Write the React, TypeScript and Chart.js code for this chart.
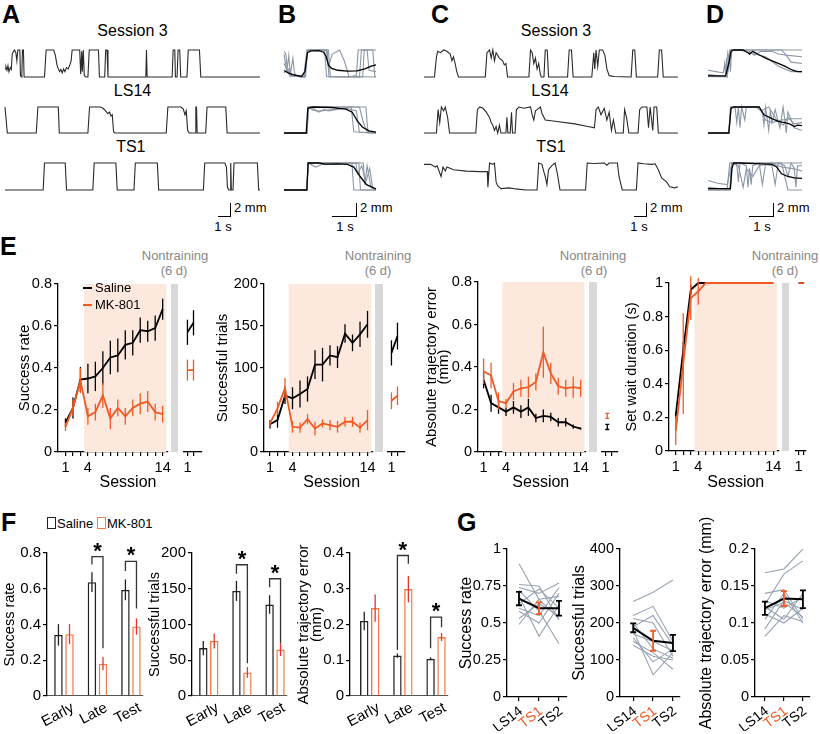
import React, { useEffect, useRef } from 'react';
import { Chart, registerables } from 'chart.js';

Chart.register(...registerables);

const FONT = "'Liberation Sans', Arial, Helvetica, sans-serif";
Chart.defaults.font.family = FONT;
Chart.defaults.color = '#000';

const ORANGE = '#f15a24';
const MK_BAR = '#f47a45';
const MK_ERR = '#e8322c';
const TRACE_DARK = '#2a2a2a';
const GRAY_TRACE = '#8b97a6';
const GRAY_LINE = '#97a3b2';
const SHADE = '#fde8dd';
const BAR_GRAY = '#d8d8d8';
const MARK_LEVEL = 1.2;

// ---------------- Panels A-D: position traces [sample, relative position] ----------------
const A_SESSION3 = [[10,0.3],[13,0.38],[16,0.25],[19,0.42],[22,0.2],[26,0.35],[29,0.28],[32,0.85],[36,0.95],[39,1],[43,0.9],[46,0.6],[49,1],[55,1],[57,0.05],[61,0],[63,1],[66,1],[68,0],[130,0],[135,1],[158,1],[163,0.8],[168,0.45],[172,0.3],[176,0.2],[180,0.28],[184,0.15],[188,0.3],[192,0.2],[197,0.35],[202,0.3],[207,0.45],[211,0.6],[214,1],[237,1],[240,0.1],[243,0.95],[245,0.2],[248,1],[251,0.05],[256,0],[262,0],[266,1],[294,1],[297,0],[313,0],[316,1],[320,1],[323,0],[438,0],[440,1],[442,0],[518,0],[521,1],[526,1],[528,0],[533,0],[536,1],[541,1],[544,0],[563,0],[567,1],[601,1],[605,0],[785,0]];
const A_SESSION3_MARKS = [58, 157];
const A_LS14 = [[10,1],[13,1],[17,0],[105,0],[110,1],[172,1],[175,0],[262,0],[267,1],[300,1],[308,0.95],[316,0.85],[322,0.75],[328,0.8],[332,0.65],[336,0.7],[340,0.05],[344,0],[500,0],[505,1],[545,1],[552,0.92],[557,0.7],[561,0.85],[565,0.1],[570,0],[588,0],[590,1],[592,1],[594,0],[620,0],[624,1],[681,1],[685,0],[785,0]];
const A_LS14_MARKS = [135, 293, 530];
const A_TS1 = [[10,0],[126,0],[130,1],[193,1],[197,0],[277,0],[281,1],[347,1],[351,0],[402,0],[406,1],[473,1],[477,0],[613,0],[617,1],[678,1],[683,0.85],[686,0.1],[690,0],[694,0],[696,1],[698,0],[703,0],[706,1],[777,1],[781,0],[785,0]];
const A_TS1_MARKS = [153, 305, 428, 640];

const B_SESSION3_MEAN = [[0,0.24],[12,0.16],[25,0.1],[55,0.02],[66,0.2],[74,0.9],[85,0.97],[110,0.98],[125,0.92],[133,0.75],[140,0.45],[150,0.32],[170,0.25],[200,0.22],[230,0.23],[255,0.3],[275,0.4],[290,0.45]];
const B_SESSION3_TRIALS = [
  [[0,0.95],[6,0.85],[10,0.3],[15,0.8],[20,0.1],[28,0.7],[33,0.15],[40,0.02],[68,0],[74,1],[128,1],[134,0.02],[200,0],[228,0.05],[234,1],[262,1],[268,0.25],[290,0.2]],
  [[0,0.15],[14,0.3],[24,0.05],[62,0],[72,1],[133,1],[140,0.35],[152,0.85],[175,1],[190,0.6],[205,0.02],[290,0]],
  [[0,0.85],[8,0.25],[30,0.08],[65,0],[73,1],[136,1],[142,0],[248,0],[253,1],[280,1],[286,0.05],[290,0]],
  [[0,0.5],[18,0.04],[64,0],[75,1],[140,1],[146,0.02],[238,0],[244,1],[290,1]],
];
const B_LS14_MEAN = [[0,0],[70,0],[75,0.95],[90,1],[150,0.98],[195,0.92],[215,0.8],[232,0.45],[248,0.22],[268,0.08],[290,0.03]];
const B_LS14_TRIALS = [
  [[0,0],[72,0],[76,1],[258,1],[265,0],[290,0]],
  [[0,0],[73,0],[77,1],[95,0.92],[110,0.8],[125,0.9],[140,0.85],[212,1],[220,0.05],[290,0]],
  [[0,0],[72,0],[76,1],[92,0.88],[108,0.84],[195,0.95],[228,0.85],[238,0.02],[290,0]],
  [[0,0],[72,0],[78,1],[238,1],[248,0.5],[260,0.08],[290,0]],
];
const B_TS1_MEAN = [[0,0],[72,0],[76,1],[110,1],[130,0.96],[170,0.97],[200,0.95],[220,0.85],[240,0.5],[260,0.2],[290,0.04]];
const B_TS1_TRIALS = [
  [[0,0],[72,0],[76,1],[214,1],[220,0],[290,0]],
  [[0,0],[72,0],[76,1],[100,0.85],[120,0.95],[236,1],[241,0],[290,0]],
  [[0,0],[72,0],[77,1],[250,1],[255,0.2],[262,0.9],[274,0.1],[290,0]],
  [[0,0],[72,0],[76,1],[226,1],[232,0.6],[245,0.9],[258,0.3],[270,0.8],[280,0.05],[290,0]],
];
const B_MARKS_SESSION3 = [130];
const B_MARKS_LS14 = [130];
const B_MARKS_TS1 = [125];

const C_SESSION3 = [[20,0],[52,0],[58,0.75],[62,0.95],[70,0.9],[80,1],[90,0.95],[100,0.85],[105,0.6],[110,0.75],[115,0.5],[120,0.2],[125,0],[207,0],[212,0.9],[220,1],[225,0.7],[230,1],[235,0.6],[240,0.9],[250,0.7],[260,0.6],[265,0.45],[270,0.5],[275,0],[340,0],[345,1],[350,0.9],[355,0.5],[360,0.7],[365,0.3],[370,0.5],[375,0.1],[378,0],[386,0],[390,1],[396,1],[400,0],[458,0],[463,1],[470,1],[475,0],[532,0],[538,0.9],[541,0.3],[545,1],[550,0.4],[555,1],[565,1],[572,0.8],[578,0.3],[585,0.05],[600,0.02],[650,0],[652,0],[657,1],[663,1],[668,0],[733,0],[738,1],[745,1],[750,0],[795,0]];
const C_SESSION3_MARKS = [82, 234];
const C_LS14 = [[20,0],[58,0],[63,0.9],[68,0.4],[73,1],[80,0.85],[85,1],[92,0.6],[98,0],[178,0],[183,0.9],[190,1],[200,0.95],[210,0.8],[220,0.6],[225,0.4],[230,0.3],[235,0.1],[240,0.25],[245,0],[250,0.3],[255,0],[270,0],[273,0.6],[276,0],[283,0],[287,0.8],[290,0],[298,0],[302,0.9],[310,1],[325,0.95],[345,1],[350,0.7],[355,0.5],[360,0.85],[365,0.9],[375,1],[380,0.75],[390,0.5],[420,0.45],[480,0.35],[520,0.25],[540,0.2],[545,0.9],[552,1],[560,0.7],[570,0.95],[578,0.5],[585,0.8],[592,0.1],[598,0.5],[605,0],[628,0],[632,0.9],[638,0.6],[645,0],[673,0],[678,0.9],[685,1],[700,1],[705,0.2],[710,1],[718,0.1],[722,1],[730,1],[735,0],[795,0]];
const C_LS14_MARKS = [205, 568];
const C_TS1 = [[20,0.95],[40,0.95],[55,0.85],[60,0.9],[72,0.5],[78,0.85],[85,0.7],[90,0.85],[110,0.75],[150,0.7],[190,0.68],[213,0.68],[215,0.1],[220,1],[230,0.95],[235,1],[240,0.3],[245,0.15],[255,0.05],[280,0.08],[300,0.04],[330,0],[365,0],[370,1],[380,0.95],[385,0.7],[390,0.5],[395,0.2],[400,0.75],[410,0.9],[420,1],[427,0.6],[435,0],[513,0],[518,1],[540,0.98],[570,1],[578,0.92],[585,1],[610,1],[615,0.5],[625,0],[668,0],[673,1],[690,0.97],[715,0.95],[725,0.97],[735,0.75],[745,0.45],[760,0.3],[770,0.12],[785,0.08],[795,0.12]];
const C_TS1_MARKS = [390, 540, 692];

const D_SESSION3_MEAN = [[0,0.04],[55,0.04],[65,0.5],[72,0.95],[80,1],[110,1],[125,0.9],[130,0.85],[140,0.95],[155,0.85],[180,0.7],[210,0.55],[240,0.4],[265,0.25],[280,0.2],[294,0.2]];
const D_SESSION3_TRIALS = [
  [[0,0.25],[25,0.2],[48,0.15],[52,0.5],[55,0.1],[58,0.7],[62,0.2],[68,1],[294,1]],
  [[0,0.02],[60,0],[66,0.8],[70,0.2],[74,1],[110,1],[125,0.9],[130,0.95],[145,0.8],[165,0.95],[200,0.95],[220,0.85],[250,0.8],[294,0.75]],
  [[0,0.05],[55,0.02],[62,0.9],[68,0.5],[75,1],[230,1],[245,0.8],[260,0.55],[294,0.5]],
  [[0,0.1],[60,0],[70,1],[100,1],[130,0.9],[180,0.75],[220,0.4],[260,0.2],[294,0.2]],
];
const D_LS14_MEAN = [[0,0],[65,0],[72,0.95],[80,1],[130,1],[160,1],[175,0.7],[200,0.55],[220,0.45],[240,0.4],[255,0.35],[270,0.25],[280,0.3],[294,0.28]];
const D_LS14_TRIALS = [
  [[0,0],[65,0],[70,1],[85,0.95],[90,0.4],[95,1],[100,0.2],[105,1],[115,0.5],[120,1],[160,1],[170,0.8],[175,0.3],[180,1],[190,0.1],[195,0.9],[200,0.4],[210,0.9],[225,0.2],[235,1],[245,0],[250,0.8],[270,0.2],[294,0.1]],
  [[0,0],[65,0],[72,1],[160,1],[180,0.5],[200,0.4],[230,0.5],[260,0.55],[294,0.55]],
  [[0,0],[66,0],[72,1],[150,1],[165,0.85],[190,1],[215,0.5],[235,0.3],[250,0.6],[270,0.35],[294,0.4]],
];
const D_TS1_MEAN = [[0,0.05],[70,0.05],[75,0.8],[80,1],[100,1],[150,0.98],[200,0.95],[215,0.85],[230,0.6],[250,0.5],[270,0.45],[294,0.43]];
const D_TS1_TRIALS = [
  [[0,0.35],[30,0.25],[60,0.2],[75,1],[294,1]],
  [[0,0.1],[60,0.02],[68,1],[90,0.95],[95,0.3],[100,1],[120,0.9],[125,0.1],[130,0.8],[135,0.2],[140,0.9],[160,1],[170,0.2],[180,0.95],[200,0.9],[210,0.2],[220,1],[240,0.9],[250,0.5],[260,1],[270,0.8],[275,0.1],[280,0.9],[294,0.9]],
  [[0,0],[70,0],[75,1],[95,0.9],[110,0.1],[120,0.8],[140,0.5],[160,0.9],[200,1],[230,0.85],[260,0.8],[280,0.75],[294,0.7]],
  [[0,0],[68,0],[74,1],[230,1],[240,0.5],[250,0],[294,0]],
];
const D_MARKS = [132];

// ---------------- Panel E ----------------
const SESSIONS = [1,2,3,4,5,6,7,8,9,10,11,12,13,14];
const SESSION_LABELS = [1, 4, 14];
const TEST_SESSIONS = [1, 2];
const TEST_LABELS = [1];
const DRUG_SESSIONS = [3.5, 14.5];

const RATE_SAL = [0.14,0.21,0.345,0.35,0.36,0.40,0.45,0.46,0.51,0.52,0.58,0.575,0.59,0.68];
const RATE_SAL_SEM = [0.02,0.05,0.06,0.07,0.07,0.08,0.08,0.08,0.07,0.06,0.06,0.05,0.06,0.05];
const RATE_MK = [0.12,0.21,0.34,0.17,0.19,0.27,0.16,0.21,0.17,0.21,0.23,0.24,0.19,0.18];
const RATE_MK_SEM = [0.02,0.04,0.06,0.04,0.04,0.06,0.05,0.04,0.04,0.04,0.05,0.05,0.04,0.04];
const RATE_SAL_TEST = [0.57, 0.615];
const RATE_SAL_TEST_SEM = [0.06, 0.06];
const RATE_MK_TEST = [0.39, 0.39];
const RATE_MK_TEST_SEM = [0.05, 0.05];

const TRIALS_SAL = [33,38,67,64,69,75,104,104,115,113,141,130,140,152];
const TRIALS_SAL_SEM = [5,9,10,13,16,15,17,20,12,13,11,10,15,16];
const TRIALS_MK = [34,52,76,30,29,39,28,34,32,30,36,36,29,38];
const TRIALS_MK_SEM = [4,8,12,7,6,6,8,5,6,7,6,6,6,12];
const TRIALS_SAL_TEST = [118, 138];
const TRIALS_SAL_TEST_SEM = [15, 16];
const TRIALS_MK_TEST = [61, 67];
const TRIALS_MK_TEST_SEM = [10, 11];

const ERROR_SAL = [0.34,0.23,0.21,0.19,0.21,0.19,0.21,0.16,0.17,0.165,0.14,0.14,0.12,0.11];
const ERROR_SAL_SEM = [0.04,0.04,0.03,0.02,0.03,0.03,0.04,0.02,0.03,0.02,0.02,0.02,0.01,0.005];
const ERROR_MK = [0.38,0.36,0.24,0.23,0.285,0.30,0.305,0.33,0.47,0.37,0.31,0.30,0.305,0.30];
const ERROR_MK_SEM = [0.06,0.06,0.04,0.02,0.04,0.04,0.05,0.04,0.12,0.05,0.04,0.04,0.05,0.04];
const ERROR_TEST_X = [1.3];
const ERROR_SAL_TEST = [0.118];
const ERROR_SAL_TEST_SEM = [0.012];
const ERROR_MK_TEST = [0.17];
const ERROR_MK_TEST_SEM = [0.012];

const WAIT_SAL = [0.21,0.6,0.96,1,1,1,1,1,1,1,1,1,1,1];
const WAIT_SAL_SEM = [0.02,0.05,0.03,0,0,0,0,0,0,0,0,0,0,0];
const WAIT_MK = [0.12,0.52,0.91,0.95,1,1,1,1,1,1,1,1,1,1];
const WAIT_MK_SEM = [0.085,0.3,0.13,0.08,0,0,0,0,0,0,0,0,0,0];
const WAIT_SAL_TEST = [1, 1];
const WAIT_MK_TEST = [1, 1];

// ---------------- Panel F ----------------
const PHASES = ['Early', 'Late', 'Test'];
const PHASE_X = [0, 1, 2];
const F_RATE_SAL = [0.342, 0.637, 0.594];
const F_RATE_SAL_SEM = [0.06, 0.055, 0.058];
const F_RATE_MK = [0.346, 0.181, 0.389];
const F_RATE_MK_SEM = [0.056, 0.037, 0.045];
const F_RATE_SIG = [[1, 0.78, 0.735, 0.267], [2, 0.753, 0.70, 0.49]];
const F_TRIALS_SAL = [67, 147, 128];
const F_TRIALS_SAL_SEM = [10, 14, 13];
const F_TRIALS_MK = [77, 33, 65];
const F_TRIALS_MK_SEM = [10.5, 7.5, 9];
const F_TRIALS_SIG = [[1, 183.6, 171, 45.8], [2, 164, 152, 74]];
const F_ERROR_SAL = [0.21, 0.113, 0.104];
const F_ERROR_SAL_SEM = [0.026, 0.006, 0.004];
const F_ERROR_MK = [0.246, 0.299, 0.165];
const F_ERROR_MK_SEM = [0.038, 0.037, 0.011];
const F_ERROR_SIG = [[1, 0.393, 0.129, 0.37], [2, 0.2206, 0.1337, 0.1926]];
const SIG_MARK = '*';

// ---------------- Panel G ----------------
const G_LABELS = ['LS14', 'TS1', 'TS2'];
const G_X = [0, 1, 2];
const G_LABEL_COLORS = ['#000', ORANGE, '#000'];
const G_RATE_LS14 = [0.90,0.76,0.74,0.72,0.68,0.63,0.60,0.58,0.53,0.49];
const G_RATE_TS1 = [0.66,0.75,0.70,0.58,0.41,0.73,0.55,0.50,0.63,0.66];
const G_RATE_TS2 = [0.53,0.52,0.77,0.36,0.62,0.60,0.74,0.70,0.55,0.68];
const G_RATE_MEAN = [0.665, 0.60, 0.60];
const G_RATE_SEM = [0.045, 0.04, 0.05];
const G_TRIALS_LS14 = [258,220,212,200,190,180,170,160,150,140];
const G_TRIALS_TS1 = [283,245,200,130,220,60,150,95,120,110];
const G_TRIALS_TS2 = [316,150,110,105,140,120,125,130,75,100];
const G_TRIALS_MEAN = [187, 152, 146];
const G_TRIALS_SEM = [12, 27, 22];
const G_ERROR_LS14 = [0.168,0.125,0.140,0.130,0.122,0.118,0.112,0.105,0.092,0.082];
const G_ERROR_TS1 = [0.173,0.166,0.145,0.120,0.105,0.128,0.100,0.140,0.130,0.110];
const G_ERROR_TS2 = [0.200,0.184,0.105,0.135,0.140,0.108,0.120,0.100,0.118,0.102];
const G_ERROR_MEAN = [0.12, 0.133, 0.132];
const G_ERROR_SEM = [0.009, 0.01, 0.012];

// ---------------- helpers ----------------
const toXY = (xs: number[], ys: number[]) => xs.map((x, i) => ({ x, y: ys[i] }));
const ptsXY = (p: number[][]) => p.map(([x, y]) => ({ x, y }));
const fmtTick = (v: number) => String(Math.round(v * 10000) / 10000);

const shadePlugin = {
  id: 'shade',
  beforeDatasetsDraw(chart: any, _a: any, opts: any) {
    if (!opts || !opts.range) return;
    const { ctx, chartArea, scales } = chart;
    const a = scales.x.getPixelForValue(opts.range[0]);
    const b = scales.x.getPixelForValue(opts.range[1]);
    ctx.save();
    ctx.fillStyle = opts.color;
    ctx.fillRect(a, chartArea.top, b - a, chartArea.bottom - chartArea.top);
    ctx.restore();
  },
};

const errPlugin = {
  id: 'err',
  afterDatasetDraw(chart: any, args: any) {
    const ds = chart.data.datasets[args.index];
    if (!ds.errors) return;
    const meta = args.meta;
    const ys = chart.scales[meta.yAxisID];
    const ctx = chart.ctx;
    ctx.save();
    ctx.lineWidth = ds.errWidth || 1.3;
    meta.data.forEach((el: any, j: number) => {
      const e = ds.errors[j];
      if (!e) return;
      const raw = ds.data[j];
      const v = typeof raw === 'number' ? raw : raw.y;
      const x = el.x;
      const top = ys.getPixelForValue(v + e);
      const bot = ys.getPixelForValue(v - e);
      ctx.strokeStyle = Array.isArray(ds.errColor) ? ds.errColor[j] : ds.errColor || ds.borderColor;
      ctx.beginPath();
      ctx.moveTo(x, top);
      ctx.lineTo(x, bot);
      const cap = ds.errCap || 0;
      if (cap) {
        ctx.moveTo(x - cap, top); ctx.lineTo(x + cap, top);
        ctx.moveTo(x - cap, bot); ctx.lineTo(x + cap, bot);
      }
      ctx.stroke();
    });
    ctx.restore();
  },
};

const bracketPlugin = {
  id: 'brackets',
  afterDatasetsDraw(chart: any, _a: any, opts: any) {
    if (!opts || !opts.items) return;
    const ctx = chart.ctx;
    const ys = chart.scales.y;
    const m0 = chart.getDatasetMeta(0), m1 = chart.getDatasetMeta(1);
    ctx.save();
    ctx.strokeStyle = '#333';
    ctx.lineWidth = 1.3;
    opts.items.forEach(([cat, top, le, re]: number[]) => {
      const xl = m0.data[cat].x, xr = m1.data[cat].x;
      const yt = ys.getPixelForValue(top);
      ctx.beginPath();
      ctx.moveTo(xl, ys.getPixelForValue(le));
      ctx.lineTo(xl, yt);
      ctx.lineTo(xr, yt);
      ctx.lineTo(xr, ys.getPixelForValue(re));
      ctx.stroke();
      ctx.fillStyle = '#000';
      ctx.font = `bold 22px ${FONT}`;
      ctx.textAlign = 'center';
      ctx.textBaseline = 'alphabetic';
      ctx.fillText(opts.mark, (xl + xr) / 2, yt + 1);
    });
    ctx.restore();
  },
};

type M = { l: number; t: number; r: number; b: number };

function base(m: M, hasY: boolean, hasX: boolean, extraPlugins: any = {}) {
  return {
    animation: false,
    responsive: false,
    events: [],
    layout: { padding: { left: hasY ? 0 : m.l, right: m.r, top: m.t, bottom: hasX ? 0 : m.b } },
    plugins: { legend: { display: false }, tooltip: { enabled: false }, ...extraPlugins },
  };
}

function yAxis(m: M, o: any) {
  return {
    type: 'linear',
    min: o.min,
    max: o.max,
    bounds: 'data',
    ticks: { stepSize: o.step, font: { size: o.size }, color: '#000', padding: 2, callback: fmtTick },
    grid: { drawOnChartArea: false, drawTicks: true, tickLength: 4, color: '#000', lineWidth: 1.2 },
    border: { display: true, color: '#000', width: 1.3 },
    title: o.title
      ? { display: true, text: o.title, color: '#000', font: { size: o.titleSize, lineHeight: o.titleLH || 1.2 }, padding: 0 }
      : { display: false },
    afterFit: (s: any) => { s.width = m.l; },
  };
}

function xAxis(m: M, o: any) {
  return {
    type: 'linear',
    min: o.min,
    max: o.max,
    bounds: 'data',
    offset: false,
    afterBuildTicks: (s: any) => { s.ticks = o.values.map((v: number) => ({ value: v })); },
    ticks: {
      autoSkip: false,
      minRotation: o.rot || 0,
      maxRotation: o.rot || 0,
      labelOffset: o.labelOffset || 0,
      font: { size: o.size },
      color: o.color || '#000',
      padding: o.pad ?? 3,
      callback: o.callback,
    },
    grid: { drawOnChartArea: false, drawTicks: o.noTicks ? false : true, tickLength: 4, color: '#000', lineWidth: 1.2, offset: false },
    border: { display: true, color: o.borderColor || '#000', width: o.borderWidth || 1.3 },
    afterFit: (s: any) => { s.height = m.b; },
  };
}

function Plot({ x0, y0, x1, y1, l, t, r, b, make }: any) {
  const ref = useRef<HTMLCanvasElement>(null);
  const X0 = Math.round(x0), Y0 = Math.round(y0);
  const W = Math.round(x1) - X0 + l + r;
  const H = Math.round(y1) - Y0 + t + b;
  useEffect(() => {
    const chart = new Chart(ref.current as HTMLCanvasElement, make({ l, t, r, b }));
    return () => chart.destroy();
  }, []);
  return (
    <canvas
      ref={ref}
      width={W}
      height={H}
      style={{ position: 'absolute', left: X0 - l, top: Y0 - t, width: W, height: H }}
    />
  );
}

function traceChart(m: M, xMin: number, xMax: number, mean: number[][], trials: number[][][], marks: number[], color: string, width: number) {
  const datasets: any[] = [
    ...trials.map((tr) => ({ data: ptsXY(tr), showLine: true, borderColor: GRAY_TRACE, borderWidth: 1.1, pointRadius: 0, clip: false, order: 2 })),
    { data: ptsXY(mean), showLine: true, borderColor: color, borderWidth: width, pointRadius: 0, clip: false, order: 1 },
    {
      data: marks.map((x) => ({ x, y: MARK_LEVEL })),
      showLine: false, pointStyle: 'triangle', rotation: 180, pointRadius: 2.6,
      backgroundColor: '#000', borderColor: '#000', borderWidth: 0, clip: false, order: 0,
    },
  ];
  return {
    type: 'scatter',
    data: { datasets },
    options: {
      ...base(m, false, false),
      scales: {
        x: { type: 'linear', display: false, min: xMin, max: xMax },
        y: { type: 'linear', display: false, min: 0, max: 1 },
      },
    },
  };
}

function lineDs(xs: number[], ys: number[], sem: number[] | null, color: string, order: number, cap = 0) {
  return {
    data: toXY(xs, ys), showLine: true, borderColor: color, borderWidth: 1.8, pointRadius: 0,
    errors: sem, errColor: color, errCap: cap, order, clip: false,
  };
}

function eMain(m: M, o: any) {
  return {
    type: 'scatter',
    data: {
      datasets: [
        lineDs(SESSIONS, o.mk, o.mkSem, ORANGE, 0),
        lineDs(SESSIONS, o.sal, o.salSem, '#000', 1),
      ],
    },
    options: {
      ...base(m, true, true, { shade: { range: DRUG_SESSIONS, color: SHADE } }),
      scales: {
        x: xAxis(m, {
          min: o.xMin, max: o.xMax, values: SESSIONS, size: 14.5,
          callback: (v: number) => (SESSION_LABELS.includes(v) ? String(v) : ''),
        }),
        y: yAxis(m, { min: 0, max: o.yMax, step: o.step, size: 14.5, title: o.title, titleSize: o.titleSize, titleLH: o.titleLH }),
      },
    },
    plugins: [shadePlugin, errPlugin],
  };
}

function eTest(m: M, o: any) {
  const xs = o.xs || TEST_SESSIONS;
  return {
    type: 'scatter',
    data: {
      datasets: [
        lineDs(xs, o.mk, o.mkSem, ORANGE, 0, o.cap || 0),
        lineDs(xs, o.sal, o.salSem, '#000', 1, o.cap || 0),
      ],
    },
    options: {
      ...base(m, false, true),
      scales: {
        x: xAxis(m, {
          min: 0.4, max: o.xMax, values: TEST_SESSIONS, size: 14.5,
          callback: (v: number) => (TEST_LABELS.includes(v) ? String(v) : ''),
        }),
        y: { type: 'linear', display: false, min: 0, max: o.yMax },
      },
    },
    plugins: [errPlugin],
  };
}

function fBars(m: M, o: any) {
  const common = { categoryPercentage: 0.66, barPercentage: 0.77, borderWidth: 1.4, backgroundColor: 'rgba(255,255,255,0)', errWidth: 1.3 };
  return {
    type: 'bar',
    data: {
      datasets: [
        { ...common, data: toXY(PHASE_X, o.sal), borderColor: '#222', errors: o.salSem, errColor: '#222' },
        { ...common, data: toXY(PHASE_X, o.mk), borderColor: MK_BAR, errors: o.mkSem, errColor: MK_ERR },
      ],
    },
    options: {
      ...base(m, true, true, { brackets: { items: o.sig, mark: SIG_MARK } }),
      scales: {
        x: xAxis(m, {
          min: o.xMin, max: 2.36, values: PHASE_X, size: 15, rot: 28, labelOffset: 9, pad: 3, noTicks: true,
          borderColor: '#555', borderWidth: 1.1,
          callback: (_v: number, i: number) => PHASES[i],
        }),
        y: yAxis(m, { min: 0, max: o.yMax, step: o.step, size: 15, title: o.title, titleSize: o.titleSize, titleLH: o.titleLH }),
      },
    },
    plugins: [errPlugin, bracketPlugin],
  };
}

function gLines(m: M, o: any) {
  const n = o.d0.length;
  const gray = Array.from({ length: n }, (_, k) => ({
    data: toXY(G_X, [o.d0[k], o.d1[k], o.d2[k]]),
    showLine: true, borderColor: GRAY_LINE, borderWidth: 1.1, pointRadius: 0, order: 2,
  }));
  return {
    type: 'scatter',
    data: {
      datasets: [
        ...gray,
        {
          data: toXY(G_X, o.mean), showLine: true, borderColor: '#000', borderWidth: 2, pointRadius: 0,
          errors: o.sem, errColor: G_LABEL_COLORS, errCap: 3, errWidth: 1.8, order: 0,
        },
      ],
    },
    options: {
      ...base(m, true, true),
      scales: {
        x: xAxis(m, {
          min: o.xMin, max: o.xMax, values: G_X, size: 14, rot: 38, labelOffset: 2, pad: 2,
          color: (c: any) => G_LABEL_COLORS[c.index] || '#000',
          callback: (_v: number, i: number) => G_LABELS[i],
        }),
        y: yAxis(m, { min: 0, max: o.yMax, step: o.step, size: 14.5, title: o.title, titleSize: o.titleSize }),
      },
    },
    plugins: [errPlugin],
  };
}

function Txt({ x, y, size = 13, color = '#000', bold = false, align = 'left', children }: any) {
  const style: any = {
    position: 'absolute',
    top: y - 0.8465 * size,
    left: x,
    fontSize: size,
    lineHeight: `${size}px`,
    fontFamily: FONT,
    color,
    fontWeight: bold ? 'bold' : 'normal',
    whiteSpace: 'nowrap',
  };
  if (align === 'center') style.transform = 'translateX(-50%)';
  return <div style={style}>{children}</div>;
}

function Rect({ x, y, w, h, color = '#000', border }: any) {
  return (
    <div
      style={{
        position: 'absolute', left: x, top: y, width: w, height: h,
        background: border ? 'transparent' : color,
        border: border ? `1.4px solid ${border}` : undefined,
        boxSizing: 'border-box',
      }}
    />
  );
}

function ScaleBar({ x, y }: any) {
  return (
    <>
      <Rect x={x} y={y - 13} w={1.2} h={13} />
      <Rect x={x - 12} y={y} w={13} h={1.2} />
      <Txt x={x + 4} y={y - 4} size={13}>2 mm</Txt>
      <Txt x={x - 7} y={y + 15} size={13} align="center">1 s</Txt>
    </>
  );
}

function ScaleBarWide({ x, y }: any) {
  return (
    <>
      <Rect x={x} y={y - 13} w={1.2} h={13} />
      <Rect x={x - 24} y={y} w={25} h={1.2} />
      <Txt x={x + 4} y={y - 4} size={13}>2 mm</Txt>
      <Txt x={x - 11} y={y + 15} size={13} align="center">1 s</Txt>
    </>
  );
}

const ROWS = [[50, 78], [107, 134], [163, 191]];
const TM = { l: 2, t: 10, r: 2, b: 3 };

export default function App() {
  useEffect(() => { document.body.style.margin = '0'; }, []);
  const eM = { t: 12, r: 6, b: 26 };
  return (
    <div style={{ position: 'absolute', left: 0, top: 0, width: 820, height: 734, background: '#fff', overflow: 'hidden', fontFamily: FONT }}>
      {/* Panel letters */}
      <Txt x={2} y={23} size={25} bold>A</Txt>
      <Txt x={278} y={23} size={25} bold>B</Txt>
      <Txt x={431} y={23} size={25} bold>C</Txt>
      <Txt x={706} y={23} size={25} bold>D</Txt>
      <Txt x={0} y={255} size={25} bold>E</Txt>
      <Txt x={1} y={531} size={25} bold>F</Txt>
      <Txt x={457} y={531} size={25} bold>G</Txt>

      {/* Row titles */}
      <Txt x={132.5} y={37} size={16} align="center">Session 3</Txt>
      <Txt x={132.5} y={96.7} size={16} align="center">LS14</Txt>
      <Txt x={130.8} y={152.7} size={16} align="center">TS1</Txt>
      <Txt x={556} y={37} size={16} align="center">Session 3</Txt>
      <Txt x={550} y={96.7} size={16} align="center">LS14</Txt>
      <Txt x={551} y={152.7} size={16} align="center">TS1</Txt>

      {/* A */}
      <Plot x0={3} y0={ROWS[0][0]} x1={262} y1={ROWS[0][1]} {...TM} make={(m: M) => traceChart(m, 10, 785, A_SESSION3, [], A_SESSION3_MARKS, TRACE_DARK, 1.1)} />
      <Plot x0={3} y0={ROWS[1][0]} x1={262} y1={ROWS[1][1]} {...TM} make={(m: M) => traceChart(m, 10, 785, A_LS14, [], A_LS14_MARKS, TRACE_DARK, 1.1)} />
      <Plot x0={3} y0={ROWS[2][0]} x1={262} y1={ROWS[2][1]} {...TM} make={(m: M) => traceChart(m, 10, 785, A_TS1, [], A_TS1_MARKS, TRACE_DARK, 1.1)} />
      {/* B */}
      <Plot x0={282} y0={ROWS[0][0]} x1={378} y1={ROWS[0][1]} {...TM} make={(m: M) => traceChart(m, 0, 290, B_SESSION3_MEAN, B_SESSION3_TRIALS, B_MARKS_SESSION3, '#000', 1.3)} />
      <Plot x0={282} y0={ROWS[1][0]} x1={378} y1={ROWS[1][1]} {...TM} make={(m: M) => traceChart(m, 0, 290, B_LS14_MEAN, B_LS14_TRIALS, B_MARKS_LS14, '#000', 1.3)} />
      <Plot x0={282} y0={ROWS[2][0]} x1={378} y1={ROWS[2][1]} {...TM} make={(m: M) => traceChart(m, 0, 290, B_TS1_MEAN, B_TS1_TRIALS, B_MARKS_TS1, '#000', 1.3)} />
      {/* C */}
      <Plot x0={422} y0={ROWS[0][0]} x1={680} y1={ROWS[0][1]} {...TM} make={(m: M) => traceChart(m, 20, 795, C_SESSION3, [], C_SESSION3_MARKS, TRACE_DARK, 1.1)} />
      <Plot x0={422} y0={ROWS[1][0]} x1={680} y1={ROWS[1][1]} {...TM} make={(m: M) => traceChart(m, 20, 795, C_LS14, [], C_LS14_MARKS, TRACE_DARK, 1.1)} />
      <Plot x0={422} y0={ROWS[2][0]} x1={680} y1={ROWS[2][1]} {...TM} make={(m: M) => traceChart(m, 20, 795, C_TS1, [], C_TS1_MARKS, TRACE_DARK, 1.1)} />
      {/* D */}
      <Plot x0={706} y0={ROWS[0][0]} x1={804} y1={ROWS[0][1]} {...TM} make={(m: M) => traceChart(m, 0, 294, D_SESSION3_MEAN, D_SESSION3_TRIALS, D_MARKS, '#000', 1.3)} />
      <Plot x0={706} y0={ROWS[1][0]} x1={804} y1={ROWS[1][1]} {...TM} make={(m: M) => traceChart(m, 0, 294, D_LS14_MEAN, D_LS14_TRIALS, D_MARKS, '#000', 1.3)} />
      <Plot x0={706} y0={ROWS[2][0]} x1={804} y1={ROWS[2][1]} {...TM} make={(m: M) => traceChart(m, 0, 294, D_TS1_MEAN, D_TS1_TRIALS, D_MARKS, '#000', 1.3)} />

      {/* scale bars */}
      <ScaleBar x={230} y={216} />
      <ScaleBarWide x={356} y={216} />
      <ScaleBar x={646} y={216} />
      <ScaleBarWide x={773} y={216} />

      {/* E: nontraining labels and bars */}
      <Txt x={175} y={260} size={13} color="#888" align="center">Nontraining</Txt>
      <Txt x={174} y={275.5} size={13} color="#888" align="center">(6 d)</Txt>
      <Txt x={378} y={260} size={13} color="#888" align="center">Nontraining</Txt>
      <Txt x={378} y={275.5} size={13} color="#888" align="center">(6 d)</Txt>
      <Txt x={593} y={260} size={13} color="#888" align="center">Nontraining</Txt>
      <Txt x={594} y={275.5} size={13} color="#888" align="center">(6 d)</Txt>
      <Txt x={785} y={260} size={13} color="#888" align="center">Nontraining</Txt>
      <Txt x={785} y={275.5} size={13} color="#888" align="center">(6 d)</Txt>
      <Rect x={171} y={284} w={7} h={168} color={BAR_GRAY} />
      <Rect x={375} y={284} w={8} h={168} color={BAR_GRAY} />
      <Rect x={589} y={282} w={8} h={170} color={BAR_GRAY} />
      <Rect x={782} y={283} w={7} h={168} color={BAR_GRAY} />

      {/* E charts */}
      <Plot x0={58} y0={284} x1={168} y1={452} l={42} {...eM} make={(m: M) => eMain(m, { sal: RATE_SAL, salSem: RATE_SAL_SEM, mk: RATE_MK, mkSem: RATE_MK_SEM, xMin: 0, xMax: 14.67, yMax: 0.8, step: 0.2, title: 'Success rate', titleSize: 15 })} />
      <Plot x0={182} y0={284} x1={202} y1={452} l={2} {...eM} make={(m: M) => eTest(m, { sal: RATE_SAL_TEST, salSem: RATE_SAL_TEST_SEM, mk: RATE_MK_TEST, mkSem: RATE_MK_TEST_SEM, xMax: 3.4, yMax: 0.8 })} />
      <Plot x0={264} y0={284} x1={373} y1={452} l={50} {...eM} make={(m: M) => eMain(m, { sal: TRIALS_SAL, salSem: TRIALS_SAL_SEM, mk: TRIALS_MK, mkSem: TRIALS_MK_SEM, xMin: 0.2, xMax: 14.73, yMax: 200, step: 50, title: 'Successful trials', titleSize: 15 })} />
      <Plot x0={386} y0={284} x1={405} y1={452} l={2} {...eM} make={(m: M) => eTest(m, { sal: TRIALS_SAL_TEST, salSem: TRIALS_SAL_TEST_SEM, mk: TRIALS_MK_TEST, mkSem: TRIALS_MK_TEST_SEM, xMax: 3.25, yMax: 200 })} />
      <Plot x0={478} y0={282} x1={586} y1={452} l={52} {...eM} make={(m: M) => eMain(m, { sal: ERROR_SAL, salSem: ERROR_SAL_SEM, mk: ERROR_MK, mkSem: ERROR_MK_SEM, xMin: 0.25, xMax: 14.65, yMax: 0.8, step: 0.2, title: ['Absolute trajectory error', '(mm)'], titleSize: 15, titleLH: 0.8 })} />
      <Plot x0={600} y0={282} x1={618} y1={452} l={2} {...eM} make={(m: M) => eTest(m, { xs: ERROR_TEST_X, sal: ERROR_SAL_TEST, salSem: ERROR_SAL_TEST_SEM, mk: ERROR_MK_TEST, mkSem: ERROR_MK_TEST_SEM, xMax: 3.1, yMax: 0.8, cap: 2 })} />
      <Plot x0={669} y0={283} x1={779} y1={451} l={46} {...eM} make={(m: M) => eMain(m, { sal: WAIT_SAL, salSem: WAIT_SAL_SEM, mk: WAIT_MK, mkSem: WAIT_MK_SEM, xMin: 0.1, xMax: 14.77, yMax: 1, step: 0.2, title: 'Set wait duration (s)', titleSize: 14.5 })} />
      <Plot x0={793} y0={283} x1={806} y1={451} l={2} {...eM} make={(m: M) => eTest(m, { sal: WAIT_SAL_TEST, salSem: null, mk: WAIT_MK_TEST, mkSem: null, xMax: 2.35, yMax: 1 })} />

      <Txt x={128} y={487.4} size={16} align="center">Session</Txt>
      <Txt x={331.7} y={487.4} size={16} align="center">Session</Txt>
      <Txt x={540.8} y={487.4} size={16} align="center">Session</Txt>
      <Txt x={735.8} y={487.4} size={16} align="center">Session</Txt>

      {/* E legend */}
      <Rect x={83} y={287} w={9} h={2} color="#000" />
      <Txt x={95} y={292.5} size={13}>Saline</Txt>
      <Rect x={83} y={304} w={9} h={2} color={ORANGE} />
      <Txt x={95} y={309.5} size={13}>MK-801</Txt>

      {/* F legend */}
      <Rect x={47} y={517} w={9} h={12} border="#222" />
      <Txt x={57} y={528} size={13}>Saline</Txt>
      <Rect x={97} y={517} w={9} h={12} border={MK_BAR} />
      <Txt x={107} y={528} size={13}>MK-801</Txt>

      {/* F charts */}
      <Plot x0={47} y0={553} x1={143} y1={696} l={46} t={30} r={6} b={32} make={(m: M) => fBars(m, { sal: F_RATE_SAL, salSem: F_RATE_SAL_SEM, mk: F_RATE_MK, mkSem: F_RATE_MK_SEM, sig: F_RATE_SIG, xMin: -0.507, yMax: 0.8, step: 0.2, title: 'Success rate', titleSize: 14.5 })} />
      <Plot x0={192} y0={553} x1={287} y1={696} l={46} t={30} r={6} b={32} make={(m: M) => fBars(m, { sal: F_TRIALS_SAL, salSem: F_TRIALS_SAL_SEM, mk: F_TRIALS_MK, mkSem: F_TRIALS_MK_SEM, sig: F_TRIALS_SIG, xMin: -0.506, yMax: 200, step: 50, title: 'Successful trials', titleSize: 14.5 })} />
      <Plot x0={350} y0={553} x1={448} y1={696} l={53} t={30} r={6} b={32} make={(m: M) => fBars(m, { sal: F_ERROR_SAL, salSem: F_ERROR_SAL_SEM, mk: F_ERROR_MK, mkSem: F_ERROR_MK_SEM, sig: F_ERROR_SIG, xMin: -0.594, yMax: 0.4, step: 0.1, title: ['Absolute trajectory error', '(mm)'], titleSize: 15, titleLH: 0.9 })} />

      {/* G charts */}
      <Plot x0={507} y0={549} x1={567} y1={697} l={50} t={14} r={6} b={34} make={(m: M) => gLines(m, { d0: G_RATE_LS14, d1: G_RATE_TS1, d2: G_RATE_TS2, mean: G_RATE_MEAN, sem: G_RATE_SEM, xMin: -0.6, xMax: 2.4, yMax: 1, step: 0.25, title: 'Success rate', titleSize: 16 })} />
      <Plot x0={620} y0={549} x1={680} y1={697} l={50} t={14} r={6} b={34} make={(m: M) => gLines(m, { d0: G_TRIALS_LS14, d1: G_TRIALS_TS1, d2: G_TRIALS_TS2, mean: G_TRIALS_MEAN, sem: G_TRIALS_SEM, xMin: -0.665, xMax: 2.35, yMax: 400, step: 100, title: 'Successful trials', titleSize: 16 })} />
      <Plot x0={755} y0={549} x1={810} y1={697} l={58} t={34} r={6} b={34} make={(m: M) => gLines(m, { d0: G_ERROR_LS14, d1: G_ERROR_TS1, d2: G_ERROR_TS2, mean: G_ERROR_MEAN, sem: G_ERROR_SEM, xMin: -0.52, xMax: 2.35, yMax: 0.2, step: 0.05, title: 'Absolute trajectory error (mm)', titleSize: 16 })} />
    </div>
  );
}
